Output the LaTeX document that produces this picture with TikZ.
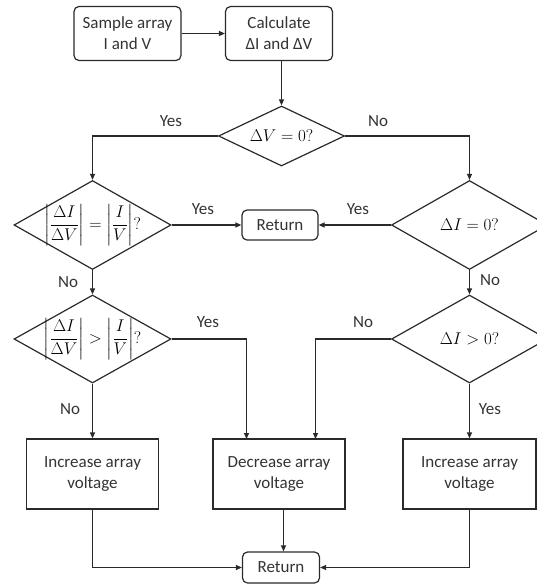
\RequirePackage{fix-cm}
\documentclass[tikz,border=0pt]{standalone}
\usepackage{amsmath}
\usepackage{fontspec}
\setmainfont{Carlito}
\usetikzlibrary{shapes.geometric,arrows.meta}
\definecolor{ln}{HTML}{2A2A2A}
\definecolor{tx}{HTML}{333333}
\begin{document}
\begin{tikzpicture}[x=1pt,y=-1pt,
  every node/.style={text=tx, font=\fontsize{17}{21}\selectfont},
  rbox/.style={draw=ln,line width=1.2pt,rounded corners=5pt,align=center,inner sep=0pt},
  pbox/.style={draw=ln,line width=1.2pt,align=center,inner sep=0pt},
  dia/.style={draw=ln,line width=1.2pt,diamond,inner sep=0pt},
  mth/.style={text=black},
  arr/.style={draw=ln,line width=1.2pt,-{Triangle[length=6pt,width=5pt]}},
  lab/.style={inner sep=0pt}]
\useasboundingbox (0,0) rectangle (537,584);
% boxes
\node[rbox,minimum width=107pt,minimum height=54pt] (sample) at (127.5,33.5) {Sample array\\I and V};
\node[rbox,minimum width=107pt,minimum height=54pt] (calc) at (279,33.5) {Calculate\\ΔI and ΔV};
% diamonds
\node[dia,minimum width=126pt,minimum height=60pt] (dv) at (281.5,136) {};
\node[mth] at (dv.center) {$\Delta V=0?$};
\node[dia,minimum width=157pt,minimum height=89pt] (eq) at (92.5,225) {};
\node[mth] at (eq.center) {$\left|\dfrac{\Delta I}{\Delta V}\right|=\left|\dfrac{I}{V}\right|?$};
\node[rbox,minimum width=76pt,minimum height=30pt] (ret1) at (280,225) {Return};
\node[dia,minimum width=156pt,minimum height=89pt] (di0) at (469.5,225) {};
\node[mth] at (di0.center) {$\Delta I=0?$};
\node[dia,minimum width=157pt,minimum height=88pt] (gt) at (92.5,339) {};
\node[mth] at (gt.center) {$\left|\dfrac{\Delta I}{\Delta V}\right|>\left|\dfrac{I}{V}\right|?$};
\node[dia,minimum width=156pt,minimum height=88pt] (dgt) at (469.5,339) {};
\node[mth] at (dgt.center) {$\Delta I>0?$};
\node[pbox,minimum width=132pt,minimum height=70pt] (incL) at (92.5,474) {Increase array\\voltage};
\node[pbox,minimum width=132pt,minimum height=70pt] (dec) at (279,474) {Decrease array\\voltage};
\node[pbox,minimum width=133pt,minimum height=70pt] (incR) at (469.5,474) {Increase array\\voltage};
\node[rbox,minimum width=77pt,minimum height=31pt] (ret2) at (281,567.5) {Return};
% helper coordinates
\coordinate (decA) at (246.5,439);
\coordinate (decB) at (315.5,439);
\coordinate (decC) at (283.5,509);
% connectors
\draw[arr] (sample.east) -- (calc.west);
\draw[arr] (dv.north |- calc.south) -- (dv.north);
\draw[arr] (dv.west) -| (eq.north);
\draw[arr] (dv.east) -| (di0.north);
\draw[arr] (eq.east) -- (ret1.west);
\draw[arr] (di0.west) -- (ret1.east);
\draw[arr] (eq.south) -- (gt.north);
\draw[arr] (di0.south) -- (dgt.north);
\draw[arr] (gt.east) -| (decA);
\draw[arr] (dgt.west) -| (decB);
\draw[arr] (gt.south) -- (incL.north);
\draw[arr] (dgt.south) -- (incR.north);
\draw[arr] (decC) -- (decC |- ret2.north);
\draw[arr] (incL.south) |- (ret2.west);
\draw[arr] (incR.south) |- (ret2.east);
% labels
\node[lab] (l1) at (171,121) {Yes};
\node[lab] (l2) at (378,121) {No};
\node[lab] (l3) at (203,209) {Yes};
\node[lab] (l4) at (358,209) {Yes};
\node[lab] (l5) at (68,282) {No};
\node[lab] (l6) at (490,280) {No};
\node[lab] (l7) at (208,322) {Yes};
\node[lab] (l8) at (363,322) {No};
\node[lab] (l9) at (70,409) {No};
\node[lab] (l10) at (490,409) {Yes};
\end{tikzpicture}
\end{document}
